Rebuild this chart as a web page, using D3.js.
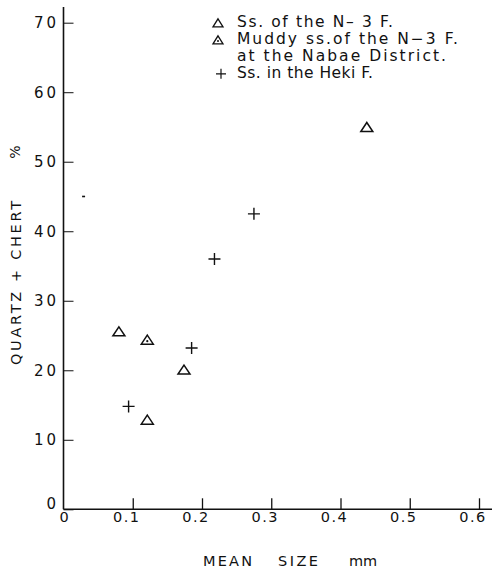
<!DOCTYPE html>
<html>
<head>
<meta charset="utf-8">
<script src="https://cdn.jsdelivr.net/npm/d3@7/dist/d3.min.js"></script>
<style>
  html, body { margin: 0; padding: 0; background: #fff; }
  svg { display: block; }
  text { font-family: "DejaVu Sans", sans-serif; fill: #111; }
</style>
</head>
<body>
<svg id="chart" width="497" height="572"></svg>
<script>
// Sandstone of the N-3 Formation
const ssN3Size = [0.08, 0.121, 0.174, 0.438];
const ssN3Qc   = [25.6, 12.9, 20.1, 55.0];

// Muddy sandstone of the N-3 Formation, Nabae District
const muddySize = [0.121];
const muddyQc   = [24.4];

// Sandstone in the Heki Formation
const hekiSize = [0.094, 0.185, 0.218, 0.275];
const hekiQc   = [14.8, 23.2, 36.0, 42.5];

// Isolated dot plotted without a symbol
const dotSize = [0.029];
const dotQc   = [45.0];

const xTicks = [0, 0.1, 0.2, 0.3, 0.4, 0.5, 0.6];
const xTickLabels = ["0", "0.1", "0.2", "0.3", "0.4", "0.5", "0.6"];
const yTicks = [0, 10, 20, 30, 40, 50, 60, 70];
const yTickLabels = ["0", "10", "20", "30", "40", "50", "60", "70"];

const legendLines = [
  { sym: "tri",   text: "Ss. of the N\u2013 3 F.",      len: 156 },
  { sym: "muddy", text: "Muddy ss.of the N\u22123 F.",  len: 221 },
  { sym: null,    text: "at the Nabae District.",       len: 209 },
  { sym: "cross", text: "Ss. in the Heki F.",           len: 136 }
];

const svg = d3.select("#chart");
const ink = "#111";

const x = d3.scaleLinear().domain([0, 0.6]).range([63.5, 479]);
const y = d3.scaleLinear().domain([0, 70]).range([509.3, 22.7]);

// Axes lines
svg.append("line")
  .attr("x1", x(0)).attr("x2", x(0))
  .attr("y1", 7).attr("y2", y(0))
  .attr("stroke", ink).attr("stroke-width", 1.6);
svg.append("line")
  .attr("x1", x(0)).attr("x2", 492)
  .attr("y1", y(0)).attr("y2", y(0))
  .attr("stroke", ink).attr("stroke-width", 1.6);

// Y ticks (pointing inward) and labels
const yAxis = d3.axisRight(y).tickValues(yTicks).tickSize(10).tickFormat("");
const gy = svg.append("g").attr("transform", `translate(${x(0)},0)`).call(yAxis);
gy.select(".domain").remove();
gy.selectAll(".tick line").attr("stroke", ink).attr("stroke-width", 1);

svg.append("g").selectAll("text")
  .data(yTicks)
  .join("text")
  .attr("x", 59)
  .attr("y", d => y(d) - (d === 0 ? 6 : 0))
  .attr("dy", "0.36em")
  .attr("text-anchor", "end")
  .attr("font-size", 15)
  .attr("letter-spacing", 3)
  .text((d, i) => yTickLabels[i]);

// X ticks (pointing up) and labels
const xAxis = d3.axisTop(x).tickValues(xTicks.filter(d => d > 0)).tickSize(11).tickFormat("");
const gx = svg.append("g").attr("transform", `translate(0,${y(0)})`).call(xAxis);
gx.select(".domain").remove();
gx.selectAll(".tick line").attr("stroke", ink).attr("stroke-width", 1.3);

svg.append("g").selectAll("text")
  .data(xTicks)
  .join("text")
  .attr("x", d => x(d) - (d > 0 ? 6 : -0.5))
  .attr("y", 522)
  .attr("text-anchor", "middle")
  .attr("font-size", 14.5)
  .attr("letter-spacing", d => d > 0 ? 1.5 : 0)
  .text((d, i) => xTickLabels[i]);

// Axis titles
const xt = svg.append("text").attr("y", 566).attr("font-size", 14.5);
xt.append("tspan").attr("x", 203).attr("textLength", 49).text("MEAN");
xt.append("tspan").attr("x", 278).attr("textLength", 40).text("SIZE");
xt.append("tspan").attr("x", 349).text("mm");

svg.append("text")
  .attr("transform", "translate(21,283) rotate(-90)")
  .attr("text-anchor", "middle")
  .attr("font-size", 14.5)
  .attr("textLength", 164)
  .attr("lengthAdjust", "spacing")
  .text("QUARTZ + CHERT");
svg.append("text")
  .attr("transform", "translate(20,152) rotate(-90)")
  .attr("text-anchor", "middle")
  .attr("font-size", 14)
  .text("%");

// Symbols
function triPath(cx, cy, w, h) {
  return `M${cx},${cy - h / 2}L${cx + w / 2},${cy + h / 2}L${cx - w / 2},${cy + h / 2}Z`;
}
function crossPath(cx, cy, r) {
  return `M${cx - r},${cy}H${cx + r}M${cx},${cy - r}V${cy + r}`;
}

const marks = svg.append("g");

marks.selectAll("path.ss")
  .data(d3.zip(ssN3Size, ssN3Qc))
  .join("path")
  .attr("d", d => triPath(x(d[0]), y(d[1]), 12, 9))
  .attr("fill", "none").attr("stroke", ink).attr("stroke-width", 1.5)
  .attr("stroke-linejoin", "miter");

marks.selectAll("g.muddy")
  .data(d3.zip(muddySize, muddyQc))
  .join("g")
  .each(function (d) {
    const g = d3.select(this);
    g.append("path")
      .attr("d", triPath(x(d[0]), y(d[1]), 12, 9))
      .attr("fill", "none").attr("stroke", ink).attr("stroke-width", 1.5);
    g.append("circle")
      .attr("cx", x(d[0])).attr("cy", y(d[1]) + 1.5).attr("r", 1.1)
      .attr("fill", ink);
  });

marks.selectAll("path.heki")
  .data(d3.zip(hekiSize, hekiQc))
  .join("path")
  .attr("d", d => crossPath(x(d[0]), y(d[1]), 6))
  .attr("fill", "none").attr("stroke", ink).attr("stroke-width", 1.4);

marks.selectAll("path.dot")
  .data(d3.zip(dotSize, dotQc))
  .join("path")
  .attr("d", d => `M${x(d[0]) - 1.5},${y(d[1])}H${x(d[0]) + 1.5}`)
  .attr("stroke", ink).attr("stroke-width", 1.6);

// Legend
const legend = svg.append("g");
const lx = 218, tx = 237, base0 = 27.3, step = 17;
legendLines.forEach((l, i) => {
  const by = base0 + i * step;
  legend.append("text")
    .attr("x", tx).attr("y", by)
    .attr("font-size", 15.5)
    .attr("textLength", l.len)
    .attr("lengthAdjust", "spacing")
    .text(l.text);
  const cy = by - 4.5;
  if (l.sym === "tri") {
    legend.append("path").attr("d", triPath(lx, cy, 10, 8))
      .attr("fill", "none").attr("stroke", ink).attr("stroke-width", 1.3);
  } else if (l.sym === "muddy") {
    legend.append("path").attr("d", triPath(lx, cy, 10, 8))
      .attr("fill", "none").attr("stroke", ink).attr("stroke-width", 1.3);
    legend.append("circle").attr("cx", lx).attr("cy", cy + 1.2).attr("r", 1)
      .attr("fill", ink);
  } else if (l.sym === "cross") {
    legend.append("path").attr("d", crossPath(lx + 3, cy, 5))
      .attr("fill", "none").attr("stroke", ink).attr("stroke-width", 1.2);
  }
});
</script>
</body>
</html>
